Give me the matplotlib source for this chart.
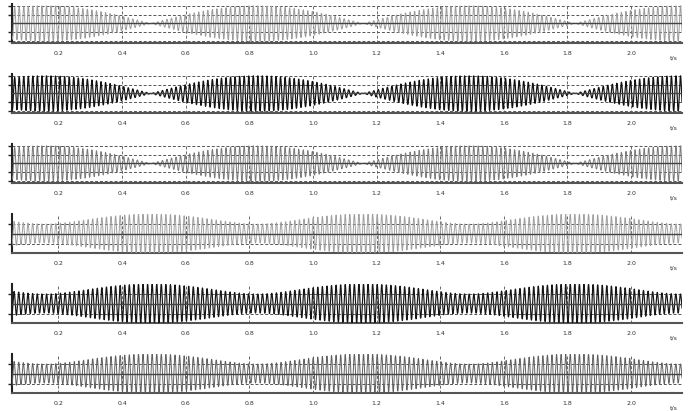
import numpy as np
import matplotlib.pyplot as plt

# two-tone beats, 70 Hz carrier, 1.5 Hz beat
freq_a = 69.25
freq_b = 70.75
amp_a = [1.0, 1.0, 1.0, 1.45, 1.45, 1.45]
amp_b = [1.0, 1.0, 1.0, 0.5, 0.5, 0.5]
phase_b = [-0.47, -0.47, -0.47, 0.53, 0.53, 0.53]   # in units of pi
colors = ['#9c9c9c', '#111111', '#7a7a7a', '#a0a0a0', '#151515', '#606060']
widths = [0.7, 0.85, 0.7, 0.7, 0.85, 0.7]
ylims = [2.2, 2.2, 2.2, 1.95, 1.95, 1.95]
hgrid = [[-2, -1, 1, 2]] * 3 + [[-1, 1]] * 3
xticks = [0.2, 0.4, 0.6, 0.8, 1.0, 1.2, 1.4, 1.6, 1.8, 2.0]
xtick_labels = ['0.2', '0.4', '0.6', '0.8', '1.0', '1.2', '1.4', '1.6', '1.8', '2.0']
t_start, t_end = 0.054, 2.16

t = np.linspace(t_start, t_end, 30000)

W, H = 691, 411
fig = plt.figure(figsize=(W / 100, H / 100), dpi=100)

for k in range(6):
    top = 4 + 70 * k
    ax = fig.add_axes([12 / W, 1 - (top + 39) / H, 670 / W, 39 / H])
    y = (amp_a[k] * np.sin(2 * np.pi * freq_a * t)
         + amp_b[k] * np.sin(2 * np.pi * freq_b * t + phase_b[k] * np.pi))

    for g in hgrid[k]:
        ax.axhline(g, color='#555555', lw=0.7, ls=(0, (3, 2)), zorder=1)
    for xt in xticks:
        ax.axvline(xt, color='#666666', lw=0.7, ls=(0, (3, 2)), zorder=1)

    ax.plot(t, y, color=colors[k], lw=widths[k], zorder=3)
    ax.axhline(0, color='#444444', lw=1.0, zorder=4)

    ax.set_xlim(t_start, t_end)
    ax.set_ylim(-ylims[k], ylims[k])
    ax.set_xticks(xticks)
    ax.set_xticklabels(xtick_labels)
    ax.set_yticks(hgrid[k])
    ax.set_yticklabels([])
    ax.tick_params(axis='x', length=0, pad=6, labelsize=4.5, labelcolor='#333333')
    ax.tick_params(axis='y', length=3, width=1.0, direction='out', color='#222222')
    for side in ('top', 'right'):
        ax.spines[side].set_visible(False)
    ax.spines['left'].set_linewidth(1.5)
    ax.spines['left'].set_color('#222222')
    ax.spines['bottom'].set_linewidth(1.5)
    ax.spines['bottom'].set_color('#555555')
    ax.text(0.987, -0.38, 't/s', transform=ax.transAxes, fontsize=4.5,
            color='#333333', ha='center', va='center')

fig.savefig('out.png', dpi=100)
